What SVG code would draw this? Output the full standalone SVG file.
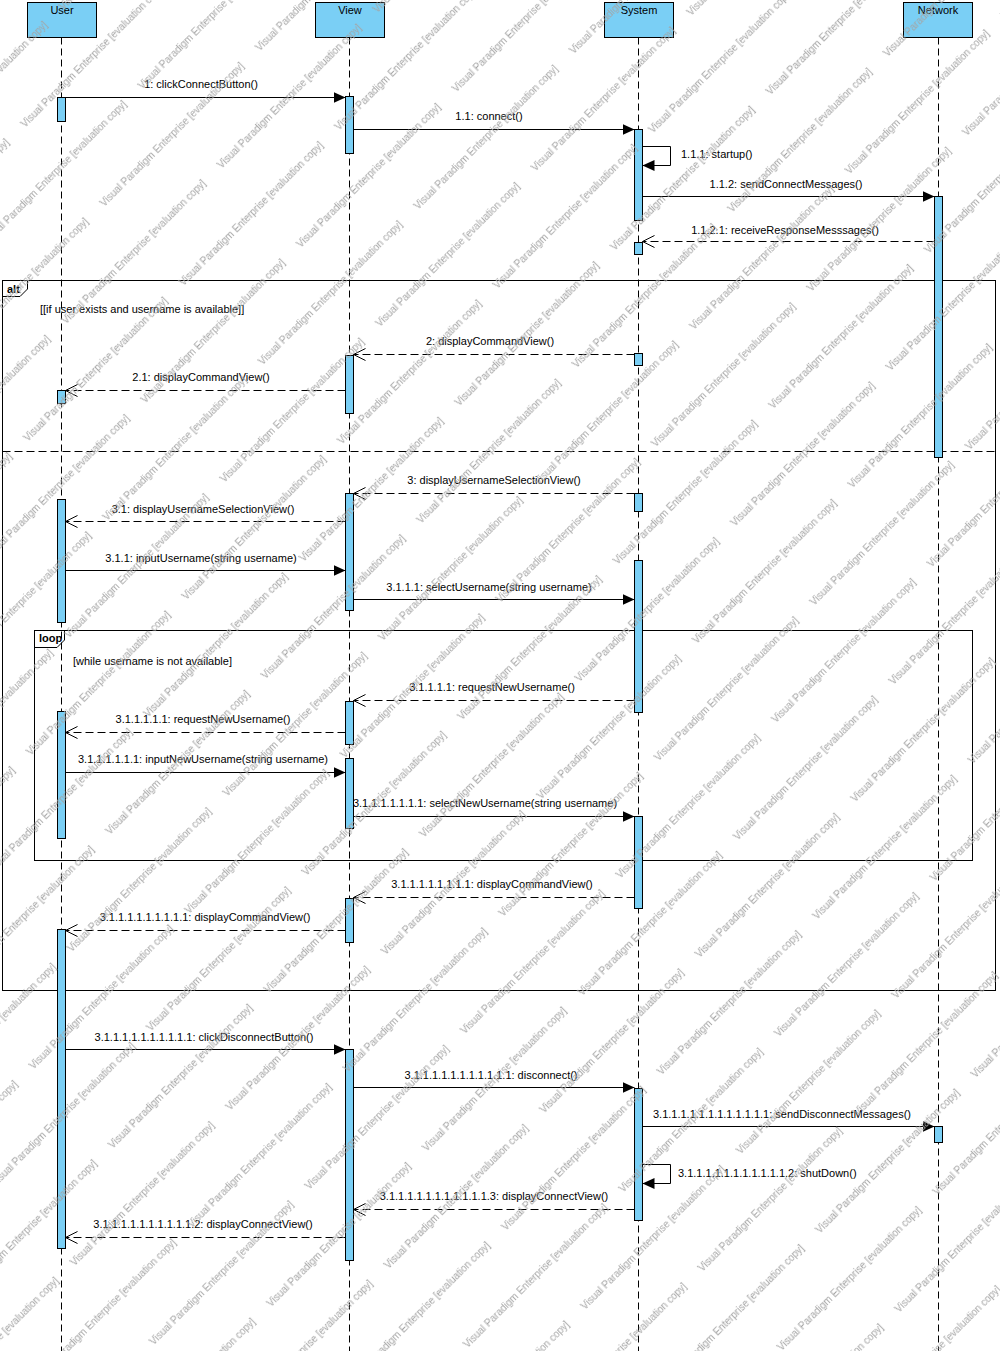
<svg xmlns="http://www.w3.org/2000/svg" width="1000" height="1351" viewBox="0 0 1000 1351">
  <style>
    .lbl { font-family: "Liberation Sans", Arial, sans-serif; font-size: 11px; fill: #000; }
    .mid { text-anchor: middle; }
    .bold { font-weight: bold; }
    .hdr { fill: #7acff5; stroke: #000; stroke-width: 1; }
    .act { fill: #7acff5; stroke: #000; stroke-width: 1; }
    .life { stroke: #000; stroke-width: 1; stroke-dasharray: 7 4; fill: none; }
    .call { stroke: #000; stroke-width: 1; fill: none; marker-end: url(#filled); }
    .ret { stroke: #000; stroke-width: 1; fill: none; stroke-dasharray: 8 4; marker-end: url(#open); }
    .frame { stroke: #000; stroke-width: 1; fill: none; }
    .sep { stroke: #000; stroke-width: 1; stroke-dasharray: 8 4; fill: none; }
    .wm { font-family: "Liberation Sans", Arial, sans-serif; font-size: 10px; fill: #a4a4a4; }
  </style>
  <defs>
    <marker id="filled" markerUnits="userSpaceOnUse" markerWidth="13" markerHeight="12" refX="12" refY="5.5" orient="auto">
      <path d="M0,0 L12,5.5 L0,11 Z" fill="#000"/>
    </marker>
    <marker id="open" markerUnits="userSpaceOnUse" markerWidth="14" markerHeight="14" refX="12.5" refY="6.5" orient="auto">
      <path d="M0.5,0.5 L12.5,6.5 L0.5,12.5" fill="none" stroke="#000" stroke-width="1"/>
    </marker>
    <!-- evaluation watermark tiled at 45 degrees -->
    <pattern id="stamp" patternUnits="userSpaceOnUse" width="220" height="112" patternTransform="translate(25,128) rotate(-45)">
      <text class="wm" x="0" y="0">Visual Paradigm Enterprise [evaluation copy]</text>
      <text class="wm" x="0" y="112">Visual Paradigm Enterprise [evaluation copy]</text>
      <text class="wm" x="110" y="56">Visual Paradigm Enterprise [evaluation copy]</text>
      <text class="wm" x="-110" y="56">Visual Paradigm Enterprise [evaluation copy]</text>
    </pattern>
  </defs>

  <rect x="0" y="0" width="1000" height="1351" fill="#fff"/>

  <!-- combined fragments -->
  <g id="frag-alt">
    <rect class="frame" x="2.5" y="280.5" width="993" height="710"/>
    <path class="frame" d="M2.5,296.5 H20 L27.5,289 V280.5"/>
    <text class="lbl bold" x="7" y="293">alt</text>
    <text class="lbl" x="40" y="313">[[if user exists and username is available]]</text>
    <line class="sep" x1="2.5" y1="451.5" x2="995.5" y2="451.5"/>
  </g>
  <g id="frag-loop">
    <rect class="frame" x="34.5" y="630.5" width="938" height="230"/>
    <path class="frame" d="M34.5,647.5 H57 L64.5,640 V630.5"/>
    <text class="lbl bold" x="39" y="642">loop</text>
    <text class="lbl" x="73" y="665">[while username is not available]</text>
  </g>

  <!-- lifelines -->
  <g id="user">
    <line class="life" x1="61.5" y1="37.5" x2="61.5" y2="1351"/>
    <rect class="hdr" x="27.5" y="2.5" width="69" height="35"/>
    <text class="lbl mid" x="62" y="14">User</text>
    <rect class="act" x="57.5" y="97.5" width="8" height="24"/>
    <rect class="act" x="57.5" y="390.5" width="8" height="13"/>
    <rect class="act" x="57.5" y="499.5" width="8" height="123"/>
    <rect class="act" x="57.5" y="711.5" width="8" height="127"/>
    <rect class="act" x="57.5" y="929.5" width="8" height="319"/>
  </g>
  <g id="view">
    <line class="life" x1="349.5" y1="37.5" x2="349.5" y2="1351"/>
    <rect class="hdr" x="315.5" y="2.5" width="69" height="35"/>
    <text class="lbl mid" x="350" y="14">View</text>
    <rect class="act" x="345.5" y="96.5" width="8" height="57"/>
    <rect class="act" x="345.5" y="355.5" width="8" height="58"/>
    <rect class="act" x="345.5" y="493.5" width="8" height="117"/>
    <rect class="act" x="345.5" y="701.5" width="8" height="43"/>
    <rect class="act" x="345.5" y="758.5" width="8" height="70"/>
    <rect class="act" x="345.5" y="898.5" width="8" height="44"/>
    <rect class="act" x="345.5" y="1049.5" width="8" height="211"/>
  </g>
  <g id="system">
    <line class="life" x1="638.5" y1="37.5" x2="638.5" y2="1351"/>
    <rect class="hdr" x="604.5" y="2.5" width="69" height="35"/>
    <text class="lbl mid" x="639" y="14">System</text>
    <rect class="act" x="634.5" y="129.5" width="8" height="91"/>
    <rect class="act" x="634.5" y="242.5" width="8" height="12"/>
    <rect class="act" x="634.5" y="353.5" width="8" height="12"/>
    <rect class="act" x="634.5" y="493.5" width="8" height="18"/>
    <rect class="act" x="634.5" y="560.5" width="8" height="152"/>
    <rect class="act" x="634.5" y="816.5" width="8" height="92"/>
    <rect class="act" x="634.5" y="1088.5" width="8" height="132"/>
  </g>
  <g id="network">
    <line class="life" x1="938.5" y1="37.5" x2="938.5" y2="1351"/>
    <rect class="hdr" x="903.5" y="2.5" width="69" height="35"/>
    <text class="lbl mid" x="938" y="14">Network</text>
    <rect class="act" x="934.5" y="196.5" width="8" height="261"/>
    <rect class="act" x="934.5" y="1126.5" width="8" height="16"/>
  </g>

  <!-- messages -->
  <g id="messages">
    <line class="call" x1="65.5" y1="97.5" x2="345.5" y2="97.5"/>
    <text class="lbl mid" x="201" y="88">1: clickConnectButton()</text>

    <line class="call" x1="353.5" y1="129.5" x2="634.5" y2="129.5"/>
    <text class="lbl mid" x="489" y="120">1.1: connect()</text>

    <path class="call" d="M642.5,146.5 H670.5 V165.5 H642.5"/>
    <text class="lbl" x="681" y="158">1.1.1: startup()</text>

    <line class="call" x1="642.5" y1="196.5" x2="934.5" y2="196.5"/>
    <text class="lbl mid" x="786" y="188">1.1.2: sendConnectMessages()</text>

    <line class="ret" x1="934.5" y1="241.5" x2="642.5" y2="241.5"/>
    <text class="lbl mid" x="785" y="234">1.1.2.1: receiveResponseMesssages()</text>

    <line class="ret" x1="634.5" y1="354.5" x2="353.5" y2="354.5"/>
    <text class="lbl mid" x="490" y="345">2: displayCommandView()</text>

    <line class="ret" x1="345.5" y1="390.5" x2="65.5" y2="390.5"/>
    <text class="lbl mid" x="201" y="381">2.1: displayCommandView()</text>

    <line class="ret" x1="634.5" y1="493.5" x2="353.5" y2="493.5"/>
    <text class="lbl mid" x="494" y="484">3: displayUsernameSelectionView()</text>

    <line class="ret" x1="345.5" y1="521.5" x2="65.5" y2="521.5"/>
    <text class="lbl mid" x="203" y="513">3.1: displayUsernameSelectionView()</text>

    <line class="call" x1="65.5" y1="570.5" x2="345.5" y2="570.5"/>
    <text class="lbl mid" x="201" y="562">3.1.1: inputUsername(string username)</text>

    <line class="call" x1="353.5" y1="599.5" x2="634.5" y2="599.5"/>
    <text class="lbl mid" x="489" y="591">3.1.1.1: selectUsername(string username)</text>

    <line class="ret" x1="634.5" y1="700.5" x2="353.5" y2="700.5"/>
    <text class="lbl mid" x="492" y="691">3.1.1.1.1: requestNewUsername()</text>

    <line class="ret" x1="345.5" y1="732.5" x2="65.5" y2="732.5"/>
    <text class="lbl mid" x="203" y="723">3.1.1.1.1.1: requestNewUsername()</text>

    <line class="call" x1="65.5" y1="772.5" x2="345.5" y2="772.5"/>
    <text class="lbl mid" x="203" y="763">3.1.1.1.1.1.1: inputNewUsername(string username)</text>

    <line class="call" x1="353.5" y1="816.5" x2="634.5" y2="816.5"/>
    <text class="lbl mid" x="485" y="807">3.1.1.1.1.1.1.1: selectNewUsername(string username)</text>

    <line class="ret" x1="634.5" y1="897.5" x2="353.5" y2="897.5"/>
    <text class="lbl mid" x="492" y="888">3.1.1.1.1.1.1.1.1: displayCommandView()</text>

    <line class="ret" x1="345.5" y1="930.5" x2="65.5" y2="930.5"/>
    <text class="lbl mid" x="205" y="921">3.1.1.1.1.1.1.1.1.1: displayCommandView()</text>

    <line class="call" x1="65.5" y1="1049.5" x2="345.5" y2="1049.5"/>
    <text class="lbl mid" x="204" y="1041">3.1.1.1.1.1.1.1.1.1.1: clickDisconnectButton()</text>

    <line class="call" x1="353.5" y1="1087.5" x2="634.5" y2="1087.5"/>
    <text class="lbl mid" x="491" y="1079">3.1.1.1.1.1.1.1.1.1.1.1: disconnect()</text>

    <line class="call" x1="642.5" y1="1126.5" x2="934.5" y2="1126.5"/>
    <text class="lbl mid" x="782" y="1118">3.1.1.1.1.1.1.1.1.1.1.1.1: sendDisconnectMessages()</text>

    <path class="call" d="M642.5,1164.5 H670.5 V1183.5 H642.5"/>
    <text class="lbl" x="678" y="1177">3.1.1.1.1.1.1.1.1.1.1.1.2: shutDown()</text>

    <line class="ret" x1="634.5" y1="1209.5" x2="353.5" y2="1209.5"/>
    <text class="lbl mid" x="494" y="1200">3.1.1.1.1.1.1.1.1.1.1.1.3: displayConnectView()</text>

    <line class="ret" x1="345.5" y1="1237.5" x2="65.5" y2="1237.5"/>
    <text class="lbl mid" x="203" y="1228">3.1.1.1.1.1.1.1.1.1.1.2: displayConnectView()</text>
  </g>

  <!-- watermark layer -->
  <rect x="0" y="0" width="1000" height="1351" fill="url(#stamp)"/>
</svg>
